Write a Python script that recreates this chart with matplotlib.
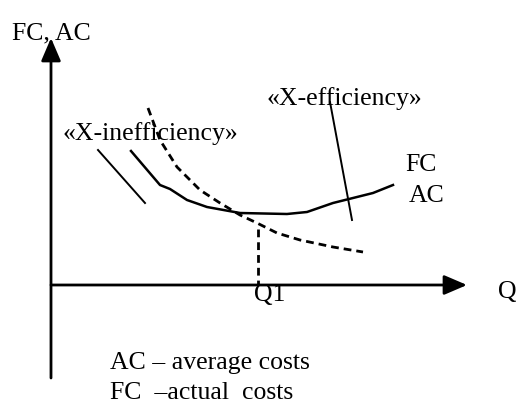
import matplotlib
matplotlib.use("Agg")
import matplotlib.pyplot as plt

plt.rcParams['font.family'] = ['Liberation Serif', 'DejaVu Serif']

# schematic data (Q, cost), origin where the axes cross
fc_q = [8.0, 10.9, 11.9, 13.6, 15.6, 18.9, 23.6, 25.6, 28.2, 32.2, 34.2]
fc_c = [13.4, 10.0, 9.6, 8.5, 7.8, 7.2, 7.1, 7.3, 8.2, 9.2, 10.0]

ac_q = [9.7, 10.9, 12.6, 14.9, 16.9, 18.9, 20.6, 22.6, 24.9, 28.2, 31.2]
ac_c = [17.7, 14.5, 11.8, 9.5, 8.2, 7.0, 6.2, 5.2, 4.5, 3.8, 3.3]

xineff_q = [4.7, 9.4]
xineff_c = [13.5, 8.2]

xeff_q = [27.9, 30.1]
xeff_c = [18.3, 6.5]

q1 = 20.7
q1_top = 5.6

fig = plt.figure(figsize=(5.16, 4.03), dpi=100)
ax = fig.add_axes([0, 0, 1, 1])
ax.set_xlim(-5.1, 46.5)
ax.set_ylim(-11.8, 28.5)
ax.axis('off')

# axes with arrows
arrow = dict(arrowstyle='-|>,head_length=0.7,head_width=0.3', lw=2.0,
             color='black', mutation_scale=20, shrinkA=0, shrinkB=0)
ax.annotate('', xy=(0, 24.7), xytext=(0, -9.3), arrowprops=arrow)
ax.annotate('', xy=(41.6, 0), xytext=(0, 0), arrowprops=arrow)

# curves
ax.plot(fc_q, fc_c, color='black', lw=1.8)
ax.plot(ac_q, ac_c, color='black', lw=2.0, linestyle=(0, (2.8, 1.8)))
ax.plot([q1, q1], [q1_top, 0], color='black', lw=2.0, linestyle=(0, (2.8, 1.8)))
ax.plot(xineff_q, xineff_c, color='black', lw=1.4)
ax.plot(xeff_q, xeff_c, color='black', lw=1.4)

fs = 18.5
ax.text(-3.9, 24.6, 'FC, AC', fontsize=fs, va='baseline')
ax.text(1.2, 14.5, '«X-inefficiency»', fontsize=fs, va='baseline')
ax.text(21.6, 18.0, '«X-efficiency»', fontsize=fs, va='baseline')
ax.text(35.4, 11.4, 'FC', fontsize=fs, va='baseline')
ax.text(35.8, 8.3, 'AC', fontsize=fs, va='baseline')
ax.text(44.7, -1.3, 'Q', fontsize=fs, va='baseline')
ax.text(q1 - 0.4, -1.6, 'Q1', fontsize=fs, va='baseline')
ax.text(5.9, -8.4, 'AC – average costs', fontsize=fs, va='baseline')
ax.text(5.9, -11.4, 'FC  –actual  costs', fontsize=fs, va='baseline')

fig.savefig('out.png', dpi=100)
